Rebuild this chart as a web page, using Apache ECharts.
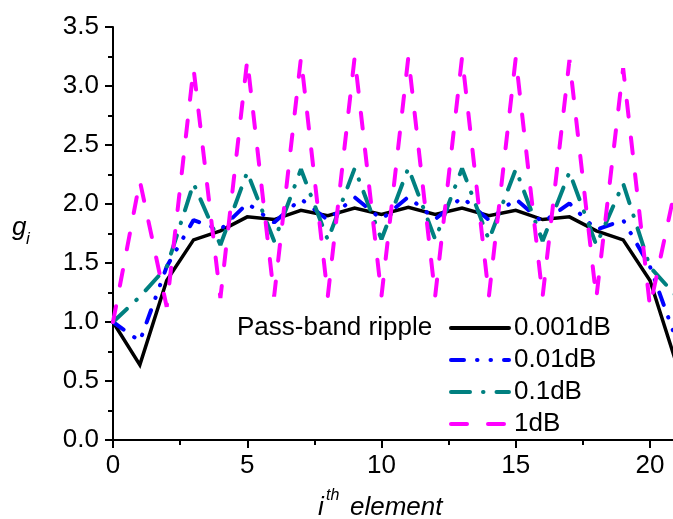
<!DOCTYPE html>
<html>
<head>
<meta charset="utf-8">
<script src="https://cdn.jsdelivr.net/npm/echarts@6/dist/echarts.min.js"></script>
<style>
html,body{margin:0;padding:0;background:#fff;}
#chart{width:673px;height:519px;}
</style>
</head>
<body>
<div id="chart"></div>
<script>
// element index i
const elementIndex = [0,1,2,3,4,5,6,7,8,9,10,11,12,13,14,15,16,17,18,19,20,21,22];
// g_i values for each pass-band ripple
const ripple0001dB = [1, 0.637, 1.352, 1.696, 1.772, 1.891, 1.868, 1.946, 1.900, 1.966, 1.912, 1.972, 1.912, 1.966, 1.900, 1.946, 1.868, 1.891, 1.772, 1.696, 1.352, 0.637, 1];
const ripple001dB  = [1, 0.837, 1.469, 1.864, 1.781, 2.005, 1.844, 2.043, 1.864, 2.057, 1.871, 2.060, 1.871, 2.057, 1.864, 2.043, 1.844, 2.005, 1.781, 1.864, 1.469, 0.837, 1];
const ripple01dB   = [1, 1.214, 1.466, 2.174, 1.653, 2.270, 1.686, 2.294, 1.696, 2.302, 1.700, 2.305, 1.700, 2.302, 1.696, 2.294, 1.686, 2.270, 1.653, 2.174, 1.466, 1.214, 1];
const ripple1dB    = [1, 2.196, 1.128, 3.150, 1.203, 3.221, 1.215, 3.238, 1.219, 3.244, 1.220, 3.245, 1.220, 3.244, 1.219, 3.238, 1.215, 3.221, 1.203, 3.150, 1.128, 2.196, 1];
const seriesNames = ['0.001dB', '0.01dB', '0.1dB', '1dB'];
const xTickLabels = [0, 5, 10, 15, 20];

const FONT = '"Liberation Sans", Arial, sans-serif';
const pairs = ys => elementIndex.map((x, i) => [x, ys[i]]);

const chart = echarts.init(document.getElementById('chart'), null, {renderer: 'canvas'});
const axisCommon = {
  axisLine: {show: true, lineStyle: {color: '#000', width: 2}},
  axisTick: {show: true, inside: false, length: 8, lineStyle: {color: '#000', width: 2}},
  minorTick: {show: true, splitNumber: 2, length: 5, lineStyle: {color: '#000', width: 2}},
  splitLine: {show: false},
  minorSplitLine: {show: false}
};
chart.setOption({
  animation: false,
  backgroundColor: '#fff',
  grid: {left: 113, top: 27, width: 671.25, height: 413, containLabel: false, outerBoundsMode: 'none'},
  xAxis: Object.assign({
    type: 'value', min: 0, max: 25, interval: 5,
    axisLabel: {
      color: '#000', fontSize: 26, fontFamily: FONT, margin: 13,
      formatter: v => (xTickLabels.indexOf(v) >= 0 ? String(v) : '')
    }
  }, axisCommon),
  yAxis: Object.assign({
    type: 'value', min: 0, max: 3.5, interval: 0.5,
    axisLabel: {
      color: '#000', fontSize: 26, fontFamily: FONT, margin: 14,
      formatter: v => v.toFixed(1)
    }
  }, axisCommon),
  legend: {
    show: true,
    data: seriesNames,
    orient: 'vertical',
    left: 449, top: 315,
    padding: 0,
    itemWidth: 58, itemHeight: 14, itemGap: 6,
    textStyle: {fontSize: 26, fontFamily: FONT, color: '#000', lineHeight: 26},
    lineStyle: {type: 'inherit', width: 4, cap: 'round'},
    itemStyle: {opacity: 0, borderWidth: 0},
    selectedMode: false
  },
  series: [
    {name: seriesNames[0], type: 'line', data: pairs(ripple0001dB), symbol: 'none', clip: true,
     lineStyle: {color: '#000000', width: 3.5, type: 'solid', join: 'miter'}, itemStyle: {color: '#000000'}, z: 2},
    {name: seriesNames[1], type: 'line', data: pairs(ripple001dB), symbol: 'none', clip: true,
     lineStyle: {color: '#0000ff', width: 4, type: [13, 13, 0.5, 13, 0.5, 13], cap: 'round'}, itemStyle: {color: '#0000ff'}, z: 3},
    {name: seriesNames[2], type: 'line', data: pairs(ripple01dB), symbol: 'none', clip: true,
     lineStyle: {color: '#008080', width: 4, type: [19, 13, 0.5, 13], cap: 'round'}, itemStyle: {color: '#008080'}, z: 4},
    {name: seriesNames[3], type: 'line', data: pairs(ripple1dB), symbol: 'none', clip: true,
     lineStyle: {color: '#ff00ff', width: 4, type: [16, 21], cap: 'round'}, itemStyle: {color: '#ff00ff'}, z: 5}
  ],
  graphic: [
    {type: 'text', left: 237, top: 315, style: {text: 'Pass-band ripple', font: '26px ' + FONT, fill: '#000'}},
    {type: 'text', x: 12, y: 228, style: {text: 'g', font: 'italic 26px ' + FONT, fill: '#000', verticalAlign: 'middle'}},
    {type: 'text', x: 26, y: 239, style: {text: 'i', font: 'italic 17px ' + FONT, fill: '#000', verticalAlign: 'middle'}},
    {type: 'text', x: 318, y: 508, style: {text: 'i', font: 'italic 26px ' + FONT, fill: '#000', verticalAlign: 'middle'}},
    {type: 'text', x: 326, y: 496, style: {text: 'th', font: 'italic 16px ' + FONT, fill: '#000', verticalAlign: 'middle'}},
    {type: 'text', x: 350, y: 508, style: {text: 'element', font: 'italic 26px ' + FONT, fill: '#000', verticalAlign: 'middle'}}
  ]
});
</script>
</body>
</html>
